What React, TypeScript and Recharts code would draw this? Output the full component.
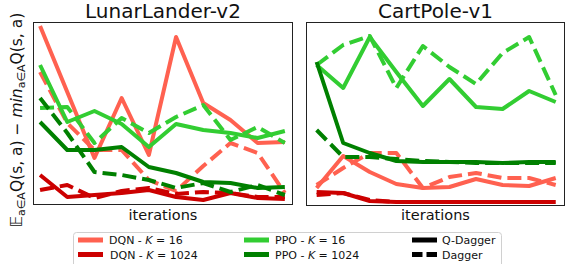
import { LineChart, Line, XAxis, YAxis } from "recharts";

// iteration index (x axis has no tick labels in the figure)
const iterations = [0, 1, 2, 3, 4, 5, 6, 7, 8, 9];

// LunarLander-v2 (arbitrary units)
const lunarDqn16QDagger = [179, 113, 47, 107, 50, 168, 102, 85, 62, 63];
const lunarDqn16Dagger = [133, 82, 55, 55, 25, 14, 39, 62, 52, 12];
const lunarDqn1024QDagger = [30, 8, 10, 12, 15, 8, 5, 12, 7, 6];
const lunarDqn1024Dagger = [15, 20, 7, 14, 17, 11, 13, 12, 8, 8];
const lunarPpo16QDagger = [140, 83, 94, 81, 58, 81, 75, 72, 67, 74];
const lunarPpo16Dagger = [97, 98, 62, 87, 72, 88, 100, 65, 78, 62];
const lunarPpo1024QDagger = [83, 55, 55, 58, 38, 32, 23, 22, 17, 18];
const lunarPpo1024Dagger = [107, 72, 33, 30, 25, 17, 22, 13, 20, 10];

// CartPole-v1
const cartDqn16QDagger = [18, 50, 34, 22, 18, 19, 27, 21, 20, 28];
const cartDqn16Dagger = [21, 38, 53, 53, 18, 29, 33, 28, 28, 21];
const cartDqn1024QDagger = [14, 13, 5, 4, 4, 4, 4, 4, 4, 4];
const cartDqn1024Dagger = [11, 13, 6, 4, 4, 4, 4, 4, 4, 4];
const cartPpo16QDagger = [141, 118, 169, 134, 100, 127, 99, 97, 115, 104];
const cartPpo16Dagger = [141, 161, 170, 118, 160, 139, 122, 153, 169, 111];
const cartPpo1024QDagger = [144, 63, 53, 45, 44, 44, 44, 43, 44, 44];
const cartPpo1024Dagger = [76, 49, 49, 47, 45, 44, 43, 43, 43, 43];

const DQN16 = "#ff6150";
const DQN1024 = "#cc0000";
const PPO16 = "#32cd32";
const PPO1024 = "#008000";
const FONT = "DejaVu Sans, sans-serif";
const DASH = "14 6";

const lunarData = iterations.map((it, k) => ({
  it,
  dqn16Q: lunarDqn16QDagger[k],
  dqn16D: lunarDqn16Dagger[k],
  dqn1024Q: lunarDqn1024QDagger[k],
  dqn1024D: lunarDqn1024Dagger[k],
  ppo16Q: lunarPpo16QDagger[k],
  ppo16D: lunarPpo16Dagger[k],
  ppo1024Q: lunarPpo1024QDagger[k],
  ppo1024D: lunarPpo1024Dagger[k],
}));

const cartData = iterations.map((it, k) => ({
  it,
  dqn16Q: cartDqn16QDagger[k],
  dqn16D: cartDqn16Dagger[k],
  dqn1024Q: cartDqn1024QDagger[k],
  dqn1024D: cartDqn1024Dagger[k],
  ppo16Q: cartPpo16QDagger[k],
  ppo16D: cartPpo16Dagger[k],
  ppo1024Q: cartPpo1024QDagger[k],
  ppo1024D: cartPpo1024Dagger[k],
}));

const series = [
  { key: "dqn16Q", color: DQN16, dash: undefined },
  { key: "dqn16D", color: DQN16, dash: DASH },
  { key: "dqn1024Q", color: DQN1024, dash: undefined },
  { key: "dqn1024D", color: DQN1024, dash: DASH },
  { key: "ppo16Q", color: PPO16, dash: undefined },
  { key: "ppo16D", color: PPO16, dash: DASH },
  { key: "ppo1024Q", color: PPO1024, dash: undefined },
  { key: "ppo1024D", color: PPO1024, dash: DASH },
];

type Box = { left: number; top: number; width: number; height: number };

function Panel({
  title,
  data,
  box,
  xDomain,
}: {
  title: string;
  data: any[];
  box: Box;
  xDomain: [number, number];
}) {
  const cx = box.left + box.width / 2;
  return (
    <>
      <div
        style={{
          position: "absolute",
          left: cx - 100,
          width: 200,
          top: 1,
          textAlign: "center",
          fontFamily: FONT,
          fontSize: 20,
          lineHeight: "20px",
          color: "#111",
        }}
      >
        {title}
      </div>
      <div style={{ position: "absolute", left: box.left, top: box.top }}>
        <LineChart
          width={box.width}
          height={box.height}
          data={data}
          margin={{ top: 0, right: 0, bottom: 0, left: 0 }}
        >
          <XAxis dataKey="it" type="number" domain={xDomain} hide />
          <YAxis domain={[0, box.height]} hide />
          {series.map((s) => (
            <Line
              key={s.key}
              type="linear"
              dataKey={s.key}
              stroke={s.color}
              strokeWidth={4}
              strokeDasharray={s.dash}
              strokeLinejoin="round"
              dot={false}
              activeDot={false}
              isAnimationActive={false}
            />
          ))}
        </LineChart>
      </div>
      <div
        style={{
          position: "absolute",
          left: box.left,
          top: box.top,
          width: box.width,
          height: box.height,
          border: "1px solid #222",
          boxSizing: "border-box",
          pointerEvents: "none",
        }}
      />
      <div
        style={{
          position: "absolute",
          left: cx - 60,
          width: 120,
          top: 207,
          textAlign: "center",
          fontFamily: FONT,
          fontSize: 14.5,
          lineHeight: "16px",
          color: "#111",
        }}
      >
        iterations
      </div>
    </>
  );
}

const legendRows = [
  [
    { label: "DQN - ", k: "16", color: DQN16 },
    { label: "PPO - ", k: "16", color: PPO16 },
  ],
  [
    { label: "DQN - ", k: "1024", color: DQN1024 },
    { label: "PPO - ", k: "1024", color: PPO1024 },
  ],
];

function Legend() {
  const rowY = [240, 254.5];
  const colX = [78, 244];
  return (
    <svg
      width={566}
      height={264}
      style={{ position: "absolute", left: 0, top: 0, pointerEvents: "none" }}
    >
      <rect x={73.5} y={232.5} width={428} height={40} rx={3} fill="#fff" stroke="#d0d0d0" />
      {legendRows.map((row, r) =>
        row.map((item, c) => (
          <g key={`${r}-${c}`}>
            <line
              x1={colX[c]}
              x2={colX[c] + 25}
              y1={rowY[r]}
              y2={rowY[r]}
              stroke={item.color}
              strokeWidth={5}
            />
            <text
              x={colX[c] + 31 + (r === 1 && c === 0 ? 1 : 0)}
              y={rowY[r] + 4}
              fontFamily={FONT}
              fontSize={11}
              fill="#111"
            >
              {item.label}
              <tspan fontStyle="italic">K</tspan>
              {" = " + item.k}
            </text>
          </g>
        ))
      )}
      <line x1={412} x2={437} y1={rowY[0]} y2={rowY[0]} stroke="#000" strokeWidth={5} />
      <text x={442} y={rowY[0] + 4} fontFamily={FONT} fontSize={11} fill="#111">
        Q-Dagger
      </text>
      <line
        x1={412}
        x2={437}
        y1={rowY[1]}
        y2={rowY[1]}
        stroke="#000"
        strokeWidth={5}
        strokeDasharray="10.5 4"
      />
      <text x={442} y={rowY[1] + 4} fontFamily={FONT} fontSize={11} fill="#111">
        Dagger
      </text>
      <text
        transform="translate(22,120) rotate(-90)"
        textAnchor="middle"
        fontFamily={FONT}
        fontSize={15.5}
        fill="#111"
      >
        <tspan>𝔼</tspan>
        <tspan fontSize={11} dy={3}>a∈A</tspan>
        <tspan dy={-3}>Q(s, a) − </tspan>
        <tspan fontStyle="italic">min</tspan>
        <tspan fontSize={11} dy={3}>a∈A</tspan>
        <tspan dy={-3}>Q(s, a)</tspan>
      </text>
    </svg>
  );
}

export default function App() {
  return (
    <div
      style={{
        position: "absolute",
        left: 0,
        top: 0,
        width: 566,
        height: 264,
        overflow: "hidden",
        background: "#fff",
      }}
    >
      <Legend />
      <Panel
        title="LunarLander-v2"
        data={lunarData}
        box={{ left: 33, top: 22, width: 260, height: 183 }}
        xDomain={[-0.26, 9.3]}
      />
      <Panel
        title="CartPole-v1"
        data={cartData}
        box={{ left: 306, top: 22, width: 259, height: 184 }}
        xDomain={[-0.4, 9.35]}
      />
    </div>
  );
}
